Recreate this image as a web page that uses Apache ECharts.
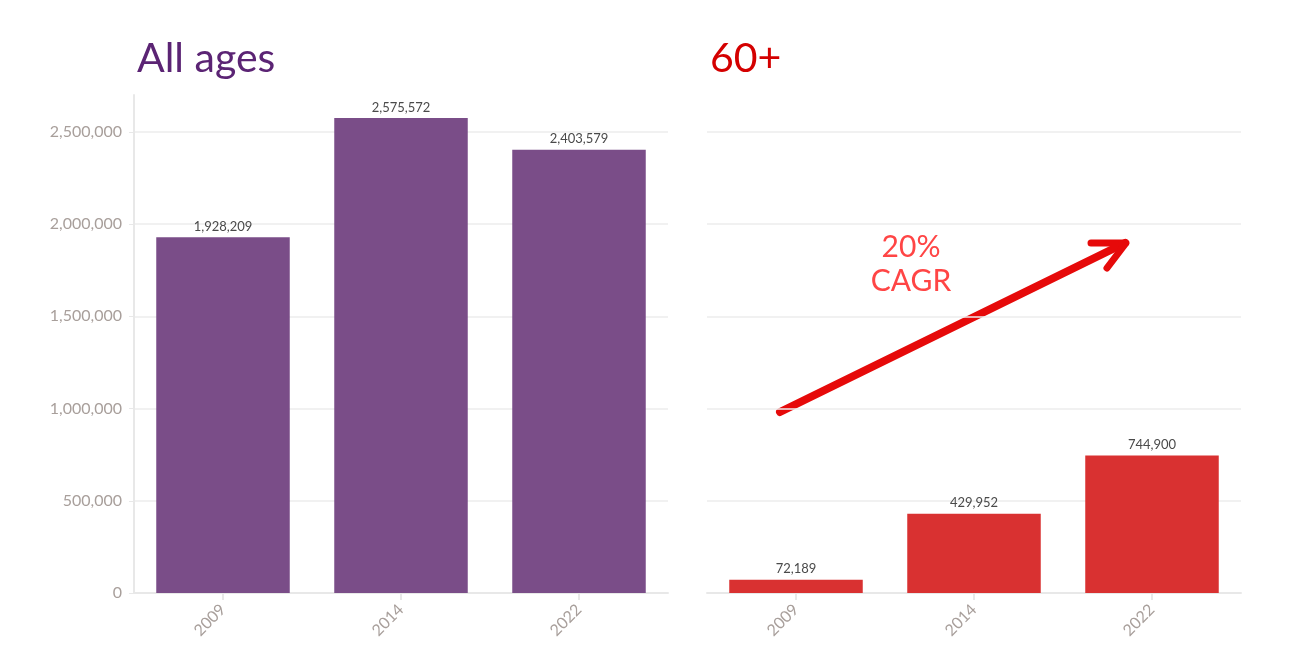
<!DOCTYPE html>
<html><head><meta charset="utf-8">
<script src="https://cdn.jsdelivr.net/npm/echarts@6/dist/echarts.min.js"></script>
<style>html,body{margin:0;padding:0;background:#fff}#c{width:1311px;height:654px}</style>
</head><body><div id="c"></div>
<script>
const categories = ['2009', '2014', '2022'];
const allAges = [1928209, 2575572, 2403579];
const over60 = [72189, 429952, 744900];
const titles = ['All ages', '60+'];
const cagrText = '20%\nCAGR';

const FONT = 'Lato, "Open Sans", sans-serif';
const fmt = v => v.toLocaleString('en-US');
const chart = echarts.init(document.getElementById('c'));

function xAxis(i) {
  return {
    type: 'category', gridIndex: i, data: categories,
    axisLine: { lineStyle: { color: '#e8e8e8', width: 2 } },
    axisTick: { show: true, alignWithLabel: true, length: 7, lineStyle: { color: '#e8e8e8', width: 2 } },
    axisLabel: { rotate: 45, color: '#a89f9b', fontSize: 16, fontFamily: FONT, margin: 14 }
  };
}
function yAxis(i, show) {
  return {
    type: 'value', gridIndex: i, min: 0, max: 2700000, interval: 500000,
    axisLine: { show: show, lineStyle: { color: '#e8e8e8', width: 2 } },
    axisTick: { show: show, length: 5, lineStyle: { color: '#e8e8e8' } },
    axisLabel: { show: show, showMaxLabel: false, color: '#a89f9b', fontSize: 16, fontFamily: FONT, margin: 12, formatter: fmt },
    splitLine: { show: true, showMaxLine: false, lineStyle: { color: '#ececec', width: 1.5 } }
  };
}
function series(i, data, color) {
  return {
    type: 'bar', xAxisIndex: i, yAxisIndex: i, data: data, barWidth: '75%',
    itemStyle: { color: color },
    label: { show: true, position: 'top', color: '#4a4a4a', fontSize: 13, fontFamily: FONT, distance: 4, formatter: p => fmt(p.value) },
    silent: true
  };
}

chart.setOption({
  animation: false,
  title: [
    { text: titles[0], left: 132, top: 33, textStyle: { color: '#5b2474', fontSize: 41, fontWeight: 'normal', fontFamily: FONT } },
    { text: titles[1], left: 705, top: 33, textStyle: { color: '#d40000', fontSize: 41, fontWeight: 'normal', fontFamily: FONT } }
  ],
  grid: [
    { left: 134, right: 643, top: 95, bottom: 61 },
    { left: 707, right: 70, top: 95, bottom: 61 }
  ],
  xAxis: [xAxis(0), xAxis(1)],
  yAxis: [yAxis(0, true), yAxis(1, false)],
  series: [series(0, allAges, '#7a4d88'), series(1, over60, '#d93131')],
  graphic: [
    { type: 'polyline', shape: { points: [[780, 412], [1125, 243]] }, style: { stroke: '#e60a0a', lineWidth: 8, lineCap: 'round', fill: null } },
    { type: 'polyline', shape: { points: [[1091, 243], [1126, 243], [1107, 268]] }, style: { stroke: '#e60a0a', lineWidth: 7, lineCap: 'round', lineJoin: 'round', fill: null } },
    { type: 'text', x: 911, y: 230, style: { text: cagrText, fill: '#ff4545', font: '30px ' + FONT, align: 'center', verticalAlign: 'top', lineHeight: 34 } }
  ]
});
</script></body></html>
